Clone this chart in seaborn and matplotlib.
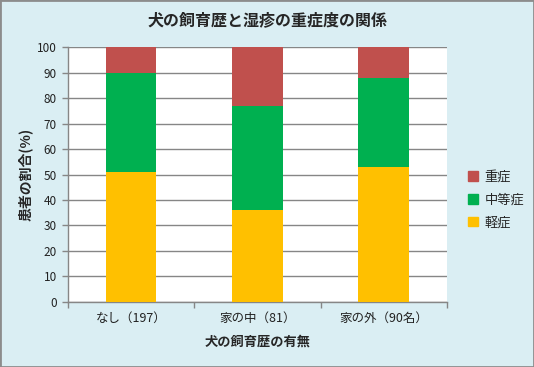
import matplotlib
matplotlib.use("Agg")
import matplotlib.pyplot as plt
import matplotlib.patches as mpatches
import numpy as np
import pandas as pd
import seaborn as sb

sb.set_theme(style="white")
plt.rcParams['font.family'] = ['Noto Sans CJK JP', 'DejaVu Sans']

# data
categories = ["なし（197）", "家の中（81）", "家の外（90名）"]
mild = [51, 36, 53]       # 軽症
moderate = [39, 41, 35]   # 中等症
severe = [10, 23, 12]     # 重症
y_ticks = list(range(0, 101, 10))

bg = "#DAEEF3"
grid_col = "#868686"
colors = {"重症": "#C0504D", "中等症": "#00B050", "軽症": "#FFC000"}

df = pd.DataFrame({"cat": categories, "軽症": mild, "中等症": moderate, "重症": severe})
df["c1"] = df["軽症"]
df["c2"] = df["c1"] + df["中等症"]
df["c3"] = df["c2"] + df["重症"]

fig = plt.figure(figsize=(5.34, 3.67), dpi=100, facecolor=bg)
ax = fig.add_axes([0.127, 0.178, 0.710, 0.693])
ax.set_facecolor("white")

# draw from the top segment down so each one covers the one above
for col, name in [("c3", "重症"), ("c2", "中等症"), ("c1", "軽症")]:
    sb.barplot(data=df, x="cat", y=col, color=colors[name], width=0.4,
               saturation=1, ax=ax, zorder=3, edgecolor="none", linewidth=0)

ax.set_ylim(0, 100)
ax.set_xlim(-0.5, 2.5)
ax.set_yticks(y_ticks)
ax.yaxis.grid(True, color=grid_col, linewidth=1)
ax.set_axisbelow(True)
ax.tick_params(axis="y", length=4, width=1, color=grid_col, labelsize=8.5,
               labelcolor="#222222", pad=4, left=True)
ax.set_xticks(range(len(categories)))
ax.set_xticklabels(categories, fontsize=9, color="#222222")
ax.tick_params(axis="x", length=0, pad=7)
ax.set_xticks([-0.5, 0.5, 1.5, 2.5], minor=True)
ax.tick_params(axis="x", which="minor", length=4, width=1, color=grid_col, bottom=True)

for s in ["top", "right"]:
    ax.spines[s].set_visible(False)
for s in ["left", "bottom"]:
    ax.spines[s].set_color(grid_col)
    ax.spines[s].set_linewidth(1)

ax.set_xlabel("犬の飼育歴の有無", fontsize=9.5, fontweight="bold", labelpad=7)
ax.set_ylabel("患者の割合(%)", fontsize=10, fontweight="bold", labelpad=3)

fig.text(0.5, 0.945, "犬の飼育歴と湿疹の重症度の関係", ha="center", va="center",
         fontsize=11.5, fontweight="bold")

handles = [mpatches.Patch(color=colors[n], label=n) for n in ["重症", "中等症", "軽症"]]
fig.legend(handles=handles, loc="center left", bbox_to_anchor=(0.855, 0.455),
           frameon=False, fontsize=9.5, handlelength=0.7, handleheight=0.7,
           handletextpad=0.5, labelspacing=0.75)

fig.patches.append(mpatches.Rectangle((0, 0), 1, 1, transform=fig.transFigure,
                                      fill=False, edgecolor="#8C8C8C", linewidth=2))

fig.savefig("out.png", dpi=100, facecolor=bg)
